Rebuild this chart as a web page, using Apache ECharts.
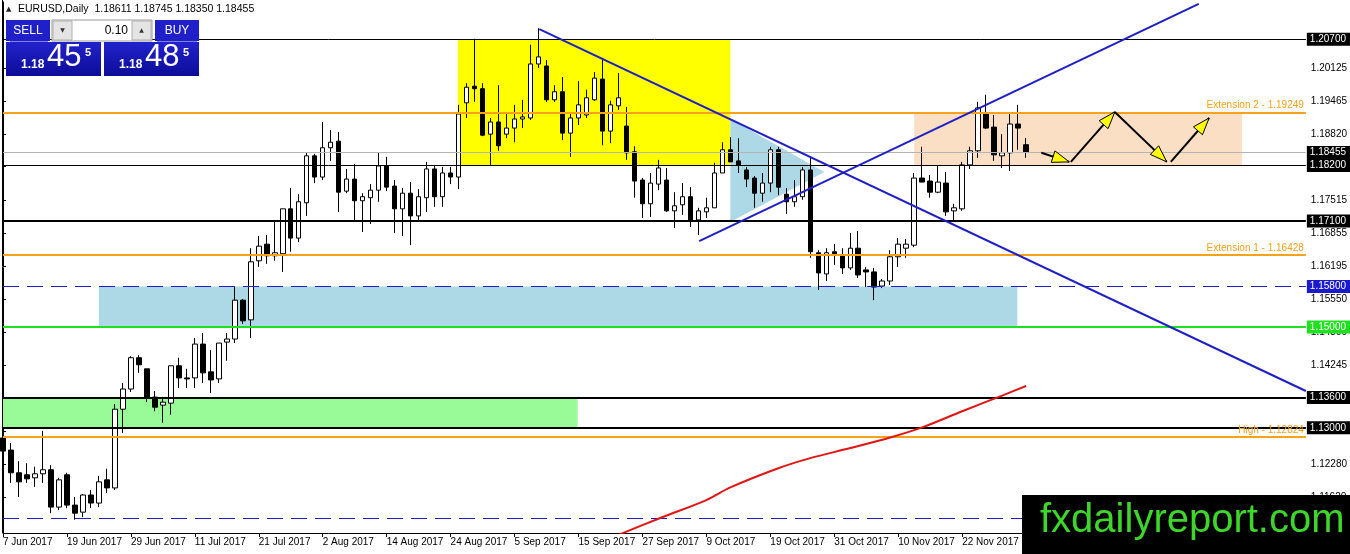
<!DOCTYPE html>
<html>
<head>
<meta charset="utf-8">
<script src="https://cdn.jsdelivr.net/npm/echarts@6/dist/echarts.min.js"></script>
<style>
  html, body { margin: 0; padding: 0; background: #fff; }
  #chart { width: 1350px; height: 554px; }
</style>
</head>
<body>
<div id="chart"></div>
<script>
// EURUSD daily, 7 Jun 2017 .. 4 Dec 2017 (bar index 0..128)
const tickLabels = ['7 Jun 2017', '19 Jun 2017', '29 Jun 2017', '11 Jul 2017', '21 Jul 2017', '2 Aug 2017',
  '14 Aug 2017', '24 Aug 2017', '5 Sep 2017', '15 Sep 2017', '27 Sep 2017', '9 Oct 2017', '19 Oct 2017',
  '31 Oct 2017', '10 Nov 2017', '22 Nov 2017'];

const openP = [1.1280, 1.1256, 1.1211, 1.1207, 1.1201, 1.1209, 1.1217, 1.1143, 1.1207, 1.1147,
  1.1133, 1.1167, 1.1151, 1.1197, 1.1181, 1.1337, 1.1377, 1.1439, 1.1417, 1.1361,
  1.1345, 1.1349, 1.1423, 1.1399, 1.1399, 1.1466, 1.1411, 1.1397, 1.1470, 1.1476,
  1.1553, 1.1514, 1.1631, 1.1664, 1.1641, 1.1645, 1.1734, 1.1676, 1.1746, 1.1839,
  1.1797, 1.1855, 1.1868, 1.1769, 1.1793, 1.1750, 1.1756, 1.1771, 1.1819, 1.1779,
  1.1734, 1.1765, 1.1720, 1.1756, 1.1813, 1.1758, 1.1805, 1.1797, 1.1944, 1.1977,
  1.1972, 1.1882, 1.1906, 1.1882, 1.1894, 1.1912, 1.1914, 1.2021, 1.2017, 1.1950,
  1.1966, 1.1884, 1.1914, 1.1920, 1.1950, 1.1991, 1.1888, 1.1938, 1.1898, 1.1847,
  1.1791, 1.1744, 1.1783, 1.1791, 1.1730, 1.1742, 1.1758, 1.1712, 1.1728, 1.1736,
  1.1805, 1.1851, 1.1829, 1.1811, 1.1795, 1.1765, 1.1785, 1.1851, 1.1763, 1.1748,
  1.1758, 1.1811, 1.1647, 1.1605, 1.1649, 1.1643, 1.1617, 1.1656, 1.1613, 1.1609,
  1.1581, 1.1591, 1.1639, 1.1656, 1.1662, 1.1795, 1.1789, 1.1767, 1.1785, 1.1730,
  1.1734, 1.1821, 1.1849, 1.1924, 1.1896, 1.1839, 1.1845, 1.1902, 1.18611];
const highP = [1.1284, 1.1270, 1.1234, 1.1230, 1.1223, 1.1294, 1.1226, 1.1201, 1.1211, 1.1163,
  1.1169, 1.1177, 1.1205, 1.1219, 1.1347, 1.1389, 1.1442, 1.1444, 1.1417, 1.1373,
  1.1359, 1.1423, 1.1439, 1.1417, 1.1478, 1.1488, 1.1454, 1.1468, 1.1488, 1.1579,
  1.1555, 1.1656, 1.1680, 1.1682, 1.1710, 1.1734, 1.1775, 1.1763, 1.1845, 1.1843,
  1.1906, 1.1890, 1.1886, 1.1813, 1.1823, 1.1765, 1.1783, 1.1845, 1.1837, 1.1791,
  1.1775, 1.1787, 1.1773, 1.1827, 1.1821, 1.1817, 1.1817, 1.1940, 1.1983, 1.2071,
  1.1983, 1.1914, 1.1979, 1.1922, 1.1940, 1.1950, 1.2059, 1.2092, 1.2029, 1.1979,
  1.1995, 1.1922, 1.1987, 1.1970, 1.2005, 1.2033, 1.1948, 1.2003, 1.1936, 1.1858,
  1.1795, 1.1805, 1.1831, 1.1815, 1.1767, 1.1785, 1.1777, 1.1736, 1.1756, 1.1825,
  1.1866, 1.1876, 1.1874, 1.1817, 1.1799, 1.1805, 1.1857, 1.1857, 1.1775, 1.1791,
  1.1817, 1.1837, 1.1652, 1.1656, 1.1664, 1.1656, 1.1686, 1.1690, 1.1619, 1.1617,
  1.1595, 1.1652, 1.1676, 1.1674, 1.1805, 1.1857, 1.1801, 1.1819, 1.1807, 1.1744,
  1.1827, 1.1857, 1.1946, 1.1960, 1.1920, 1.1882, 1.1924, 1.1940, 1.18745];
const lowP = [1.1203, 1.1191, 1.1163, 1.1191, 1.1183, 1.1191, 1.1131, 1.1137, 1.1141, 1.1118,
  1.1123, 1.1141, 1.1143, 1.1171, 1.1177, 1.1290, 1.1371, 1.1409, 1.1351, 1.1333,
  1.1310, 1.1326, 1.1379, 1.1379, 1.1379, 1.1389, 1.1369, 1.1389, 1.1433, 1.1468,
  1.1506, 1.1478, 1.1619, 1.1625, 1.1631, 1.1609, 1.1649, 1.1668, 1.1720, 1.1785,
  1.1791, 1.1829, 1.1728, 1.1765, 1.1712, 1.1688, 1.1704, 1.1748, 1.1769, 1.1686,
  1.1680, 1.1662, 1.1708, 1.1728, 1.1738, 1.1738, 1.1783, 1.1773, 1.1914, 1.1946,
  1.1878, 1.1821, 1.1849, 1.1874, 1.1866, 1.1894, 1.1910, 1.2013, 1.1946, 1.1946,
  1.1870, 1.1837, 1.1900, 1.1914, 1.1948, 1.1860, 1.1864, 1.1930, 1.1831, 1.1756,
  1.1716, 1.1718, 1.1771, 1.1728, 1.1696, 1.1722, 1.1698, 1.1682, 1.1716, 1.1736,
  1.1805, 1.1827, 1.1805, 1.1777, 1.1736, 1.1748, 1.1767, 1.1761, 1.1724, 1.1738,
  1.1752, 1.1637, 1.1573, 1.1591, 1.1623, 1.1605, 1.1613, 1.1597, 1.1579, 1.1553,
  1.1577, 1.1583, 1.1619, 1.1637, 1.1658, 1.1787, 1.1756, 1.1765, 1.1720, 1.1712,
  1.1730, 1.1813, 1.1835, 1.1892, 1.1829, 1.1815, 1.1809, 1.1851, 1.18350];
const closeP = [1.1254, 1.1211, 1.1193, 1.1199, 1.1209, 1.1217, 1.1143, 1.1197, 1.1147, 1.1131,
  1.1167, 1.1151, 1.1193, 1.1181, 1.1337, 1.1377, 1.1439, 1.1425, 1.1361, 1.1341,
  1.1351, 1.1423, 1.1399, 1.1397, 1.1466, 1.1409, 1.1395, 1.1468, 1.1476, 1.1553,
  1.1512, 1.1629, 1.1660, 1.1641, 1.1647, 1.1734, 1.1676, 1.1748, 1.1839, 1.1797,
  1.1855, 1.1866, 1.1767, 1.1793, 1.1750, 1.1758, 1.1771, 1.1819, 1.1777, 1.1734,
  1.1765, 1.1720, 1.1758, 1.1813, 1.1758, 1.1805, 1.1797, 1.1922, 1.1975, 1.1972,
  1.1880, 1.1906, 1.1859, 1.1894, 1.1912, 1.1916, 1.2021, 1.2035, 1.1950, 1.1966,
  1.1884, 1.1914, 1.1940, 1.1954, 1.1993, 1.1888, 1.1940, 1.1954, 1.1845, 1.1789,
  1.1744, 1.1785, 1.1815, 1.1730, 1.1740, 1.1758, 1.1712, 1.1730, 1.1736, 1.1805,
  1.1851, 1.1827, 1.1821, 1.1793, 1.1765, 1.1785, 1.1851, 1.1777, 1.1748, 1.1758,
  1.1811, 1.1649, 1.1607, 1.1647, 1.1645, 1.1617, 1.1656, 1.1603, 1.1609, 1.1579,
  1.1591, 1.1639, 1.1664, 1.1664, 1.1795, 1.1787, 1.1767, 1.1787, 1.1728, 1.1736,
  1.1821, 1.1849, 1.1934, 1.1894, 1.1841, 1.1845, 1.1902, 1.1894, 1.18455];

// price scale labels as printed by the terminal
const priceTicks = [1.20125, 1.19465, 1.18820, 1.18175, 1.17515, 1.16855, 1.16195,
  1.15550, 1.14890, 1.14245, 1.13585, 1.12940, 1.12280, 1.11620];

// horizontal levels with price boxes
const levelPrices = [1.20700, 1.18455, 1.18200, 1.17100, 1.15800, 1.15000, 1.13600, 1.13000, 1.11200];
// fibo-style text levels
const extPrices = [1.19249, 1.16428, 1.12824];
const extNames = ['Extension 2', 'Extension 1', 'High'];

// zones: [barIndex, price] corners
const zonePolys = [
  [[56.9, 1.2070], [91, 1.2070], [91, 1.1820], [56.9, 1.1820]],
  [[12, 1.1580], [126.9, 1.1580], [126.9, 1.1500], [12, 1.1500]],
  [[0, 1.1360], [71.9, 1.1360], [71.9, 1.1300], [0, 1.1300]],
  [[114, 1.1925], [155, 1.1925], [155, 1.1820], [114, 1.1820]],
  [[91, 1.1912], [102.75, 1.1807], [91, 1.1708]]
];

const downTrend = [[67.1, 1.2090], [163, 1.1373]];
const upTrend = [[87.1, 1.1670], [149.6, 1.2140]];

// moving average read at a few bars
const maBars = [77, 82, 88, 91, 97, 101, 106, 111, 115, 120, 125, 128];
const maValues = [1.1088, 1.1120, 1.1157, 1.1182, 1.1220, 1.1240, 1.1260, 1.1281, 1.1301, 1.1333, 1.1364, 1.1383];

// projected path arrows
const arrowSegs = [
  [[129.9, 1.1845], [133.4, 1.1827]],
  [[133.6, 1.1827], [139.1, 1.1926]],
  [[139.1, 1.1926], [145.6, 1.1827]],
  [[146.1, 1.1827], [150.9, 1.1914]]
];

const FONT = 'Liberation Sans';
const BLUE = '#1f1fc4';
const ORANGE = '#f7a21b';
const zoneColors = ['#ffff00', '#add8e6', '#98fb98', '#fbdfc4', '#add8e6'];
const levelStyles = [
  { color: '#000', width: 1, box: '#000' },
  { color: '#b4b4b4', width: 1, box: '#000' },
  { color: '#000', width: 1, box: '#000' },
  { color: '#000', width: 2, box: '#000' },
  { color: BLUE, width: 1, box: '#1a1acc', type: [16, 8] },
  { color: '#1ee01e', width: 2, box: '#1ee01e' },
  { color: '#000', width: 2, box: '#000' },
  { color: '#000', width: 2, box: '#000' },
  { color: BLUE, width: 1, box: '#1a1acc', type: [16, 8] }
];

const chart = echarts.init(document.getElementById('chart'));

const candles = openP.map((o, i) => [i, o, closeP[i], lowP[i], highP[i]]);

const markData = levelPrices.map((p, i) => {
  const s = levelStyles[i];
  return {
    yAxis: p,
    lineStyle: { color: s.color, width: s.width, type: s.type || 'solid' },
    label: {
      show: true, position: 'end', distance: 1,
      formatter: p.toFixed(5),
      backgroundColor: s.box, color: '#fff',
      fontFamily: FONT, fontSize: 10, padding: [2, 4, 1, 3]
    }
  };
}).concat(extPrices.map((p, i) => ({
  yAxis: p,
  lineStyle: { color: ORANGE, width: 2, type: 'solid' },
  label: {
    show: true, position: 'insideEndTop', distance: 2,
    formatter: extNames[i] + ' - ' + p.toFixed(5),
    color: ORANGE, fontFamily: FONT, fontSize: 10
  }
})));

function headOf(a, b) {
  const dx = b[0] - a[0], dy = b[1] - a[1];
  const len = Math.sqrt(dx * dx + dy * dy) || 1;
  const ux = dx / len, uy = dy / len;
  const L = 17, W = 6;
  const bx = b[0] - ux * L, by = b[1] - uy * L;
  return [[b[0], b[1]], [bx - uy * W, by + ux * W], [bx + uy * W, by - ux * W]];
}

chart.setOption({
  animation: false,
  backgroundColor: '#fff',
  grid: { left: 3, right: 43, top: 2, bottom: 21 },
  xAxis: {
    type: 'value', min: 0, max: 163, interval: 8,
    axisLine: { show: true, onZero: false, lineStyle: { color: '#000', width: 1 } },
    axisTick: { show: true, length: 4, lineStyle: { color: '#000' } },
    splitLine: { show: false },
    axisLabel: {
      formatter: v => tickLabels[v / 8] || '',
      align: 'left', margin: 4, color: '#000', fontFamily: FONT, fontSize: 10
    }
  },
  yAxis: {
    type: 'value', position: 'right', min: 1.10917, max: 1.21438,
    axisLine: { show: true, lineStyle: { color: '#000', width: 1 } },
    axisTick: { show: true, length: 3, customValues: priceTicks, lineStyle: { color: '#000' } },
    splitLine: { show: false },
    axisLabel: {
      customValues: priceTicks, formatter: v => v.toFixed(5),
      margin: 5, color: '#000', fontFamily: FONT, fontSize: 10
    }
  },
  series: [
    {
      type: 'custom', name: 'zones', z: 1, clip: true,
      data: zonePolys.map((_, i) => [i, 1.16]),
      encode: { x: 0, y: 1 },
      renderItem(params, api) {
        const poly = zonePolys[params.dataIndex];
        return {
          type: 'polygon',
          shape: { points: poly.map(p => api.coord(p)) },
          style: { fill: zoneColors[params.dataIndex] }
        };
      }
    },
    {
      type: 'line', name: 'levels', z: 3, data: [], symbol: 'none',
      markLine: { silent: true, precision: 5, symbol: ['none', 'none'], animation: false, data: markData }
    },
    {
      type: 'candlestick', name: 'EURUSD', z: 4,
      data: candles,
      encode: { x: 0, y: [1, 2, 3, 4] },
      barWidth: 5,
      itemStyle: {
        color: '#fff', color0: '#000',
        borderColor: '#000', borderColor0: '#000', borderColorDoji: '#000', borderWidth: 1
      }
    },
    {
      type: 'line', name: 'MA', z: 5, symbol: 'none', smooth: 0.3, clip: true,
      data: maBars.map((b, i) => [b, maValues[i]]),
      lineStyle: { color: '#e01515', width: 2 }
    },
    {
      type: 'line', name: 'down', z: 5, symbol: 'none', clip: true,
      data: downTrend, lineStyle: { color: BLUE, width: 2 }
    },
    {
      type: 'line', name: 'up', z: 5, symbol: 'none', clip: true,
      data: upTrend, lineStyle: { color: BLUE, width: 2 }
    },
    {
      type: 'custom', name: 'arrows', z: 6,
      data: arrowSegs.map((_, i) => [i, 1.18]),
      encode: { x: 0, y: 1 },
      renderItem(params, api) {
        const seg = arrowSegs[params.dataIndex];
        const a = api.coord(seg[0]), b = api.coord(seg[1]);
        return {
          type: 'group',
          children: [
            { type: 'line', shape: { x1: a[0], y1: a[1], x2: b[0], y2: b[1] }, style: { stroke: '#000', lineWidth: 2 } },
            { type: 'polygon', shape: { points: headOf(a, b) }, style: { fill: '#ffff00', stroke: '#000', lineWidth: 1 } }
          ]
        };
      }
    }
  ],
  graphic: [
    { type: 'line', z: 50, shape: { x1: 2.5, y1: 0, x2: 2.5, y2: 533 }, style: { stroke: '#000', lineWidth: 1 } },
    { type: 'text', z: 100, left: 6, top: 6, style: { text: '▲', fill: '#222', font: '7px "DejaVu Sans"' } },
    { type: 'text', z: 100, left: 18, top: 4, style: { text: 'EURUSD,Daily  1.18611 1.18745 1.18350 1.18455', fill: '#000', font: '10.5px "Liberation Sans"' } },
    // trade panel
    { type: 'rect', z: 100, shape: { x: 6, y: 20, width: 44, height: 21 }, style: { fill: '#2020c8' } },
    { type: 'text', z: 101, style: { x: 28, y: 31, text: 'SELL', fill: '#fff', font: '12px "Liberation Sans"', align: 'center', verticalAlign: 'middle' } },
    { type: 'rect', z: 100, shape: { x: 52, y: 20, width: 100, height: 21 }, style: { fill: '#fff', stroke: '#9a9a9a', lineWidth: 1 } },
    { type: 'rect', z: 101, shape: { x: 53, y: 21, width: 19, height: 19 }, style: { fill: '#e4e4e4', stroke: '#b0b0b0' } },
    { type: 'rect', z: 101, shape: { x: 132, y: 21, width: 19, height: 19 }, style: { fill: '#e4e4e4', stroke: '#b0b0b0' } },
    { type: 'text', z: 102, style: { x: 62.5, y: 30.5, text: '▼', fill: '#333', font: '6px "DejaVu Sans"', align: 'center', verticalAlign: 'middle' } },
    { type: 'text', z: 102, style: { x: 141.5, y: 30.5, text: '▲', fill: '#333', font: '6px "DejaVu Sans"', align: 'center', verticalAlign: 'middle' } },
    { type: 'text', z: 102, style: { x: 128, y: 31, text: '0.10', fill: '#000', font: '12px "Liberation Sans"', align: 'right', verticalAlign: 'middle' } },
    { type: 'rect', z: 100, shape: { x: 155, y: 20, width: 44, height: 21 }, style: { fill: '#2020c8' } },
    { type: 'text', z: 101, style: { x: 177, y: 31, text: 'BUY', fill: '#fff', font: '12px "Liberation Sans"', align: 'center', verticalAlign: 'middle' } },
    { type: 'rect', z: 100, shape: { x: 6, y: 42, width: 95, height: 34 },
      style: { fill: new echarts.graphic.LinearGradient(0, 0, 0, 1, [{ offset: 0, color: '#2222cc' }, { offset: 1, color: '#0c0c98' }]) } },
    { type: 'rect', z: 100, shape: { x: 104, y: 42, width: 95, height: 34 },
      style: { fill: new echarts.graphic.LinearGradient(0, 0, 0, 1, [{ offset: 0, color: '#2222cc' }, { offset: 1, color: '#0c0c98' }]) } },
    { type: 'line', z: 101, shape: { x1: 10, y1: 41.5, x2: 48, y2: 41.5 }, style: { stroke: '#8080e0', lineWidth: 1 } },
    { type: 'line', z: 101, shape: { x1: 157, y1: 41.5, x2: 197, y2: 41.5 }, style: { stroke: '#8080e0', lineWidth: 1 } },
    { type: 'text', z: 101, style: { x: 21, y: 71, text: '1.18', fill: '#fff', font: 'bold 12px "Liberation Sans"', verticalAlign: 'bottom' } },
    { type: 'text', z: 101, style: { x: 47, y: 73, text: '45', fill: '#fff', font: '31px "Liberation Sans"', verticalAlign: 'bottom' } },
    { type: 'text', z: 101, style: { x: 85, y: 47, text: '5', fill: '#fff', font: 'bold 11px "Liberation Sans"', verticalAlign: 'top' } },
    { type: 'text', z: 101, style: { x: 119, y: 71, text: '1.18', fill: '#fff', font: 'bold 12px "Liberation Sans"', verticalAlign: 'bottom' } },
    { type: 'text', z: 101, style: { x: 145, y: 73, text: '48', fill: '#fff', font: '31px "Liberation Sans"', verticalAlign: 'bottom' } },
    { type: 'text', z: 101, style: { x: 183, y: 47, text: '5', fill: '#fff', font: 'bold 11px "Liberation Sans"', verticalAlign: 'top' } },
    // site banner
    { type: 'rect', z: 100, shape: { x: 1022, y: 495, width: 328, height: 59 }, style: { fill: '#000' } },
    { type: 'text', z: 101, style: { x: 1040, y: 521, text: 'fxdailyreport.com', fill: '#3ed62a', font: '40px "Liberation Sans"', verticalAlign: 'middle' } }
  ]
});
</script>
</body>
</html>
